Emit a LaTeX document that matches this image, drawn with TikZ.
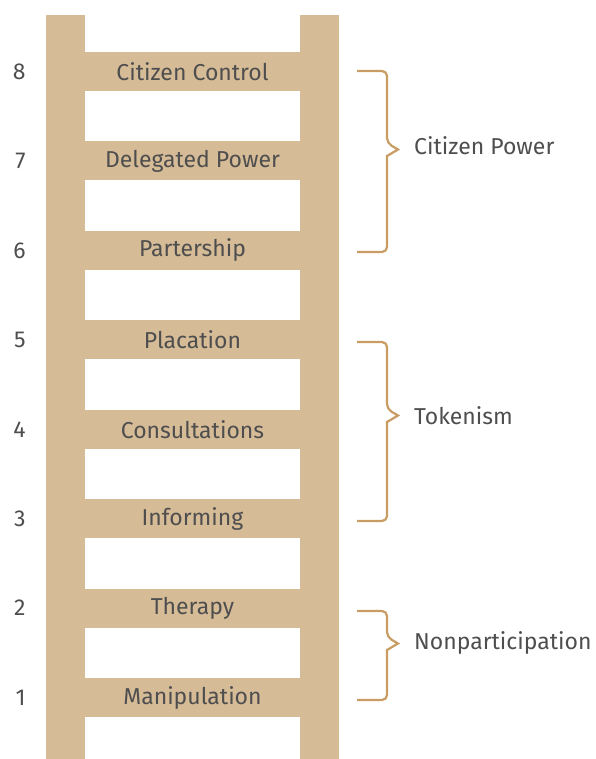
\documentclass[tikz,border=0pt]{standalone}
\usepackage{fontspec}
\setmainfont{Fira Sans}
\usetikzlibrary{positioning,calc}
\definecolor{ldWood}{RGB}{214,187,151}
\definecolor{ldBrace}{RGB}{200,156,98}
\definecolor{ldText}{RGB}{78,78,78}
\tikzset{
    base/.style={font=\fontsize{23}{26}\selectfont, text=ldText, inner sep=0pt},
    rung/.style={base, rectangle, fill=ldWood, minimum width=293pt, minimum height=39pt},
    num/.style={base},
    group/.style={base, anchor=west},
    brace/.style={draw=ldBrace, line width=2.2pt, rounded corners=5pt}
}

\begin{document}
\begin{tikzpicture}[x=1pt,y=-1pt]
  \useasboundingbox (0,0) rectangle (595,759);
  % Rails
  \fill[ldWood] (46,15) rectangle (85,759);
  \fill[ldWood] (300,15) rectangle (339,759);

  % Rungs with their numbers
  \foreach \t [count=\i] in {Manipulation,Therapy,Informing,Consultations,Placation,Partership,Delegated Power,Citizen Control}{
    \node[rung] (r\i) at (192.5,{697.5-(\i-1)*89.43}) {\t};
    \node[num, left=20pt of r\i.west] (n\i) {\i};
  }

  % Braces
  \coordinate (cpTop) at (357,71);
  \coordinate (cpBot) at (357,252);
  \coordinate (tkTop) at (357,342);
  \coordinate (tkBot) at (357,521);
  \coordinate (npTop) at (357,611);
  \coordinate (npBot) at (357,700);
  \draw[brace] (cpTop) -- (387,71) -- (387,143) [sharp corners] -- (398,149.5) -- (387,156) [rounded corners=5pt] -- (387,252) -- (cpBot);
  \draw[brace] (tkTop) -- (387,342) -- (387,409) [sharp corners] -- (398,415.5) -- (387,422) [rounded corners=5pt] -- (387,521) -- (tkBot);
  \draw[brace] (npTop) -- (387,611) -- (387,637) [sharp corners] -- (398,643.5) -- (387,650) [rounded corners=5pt] -- (387,700) -- (npBot);

  % Group labels
  \node[group] (cp) at (414,146) {Citizen Power};
  \node[group] (tk) at (414,416) {Tokenism};
  \node[group] (np) at (414,643) {Nonparticipation};
\end{tikzpicture}
\end{document}
